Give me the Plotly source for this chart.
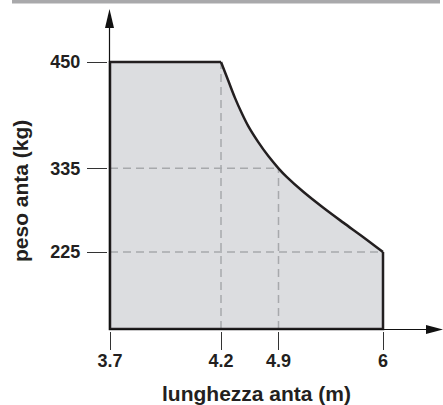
import numpy as np
import plotly.graph_objects as go

# ---------------- data ----------------
X_TICKS = [3.7, 4.2, 4.9, 6.0]          # lunghezza anta (m)
Y_TICKS = [225, 335, 450]               # peso anta (kg)
Y_FLOOR = 125                           # unlabeled floor of the diagram

# curved limit between (4.2, 450) and (6, 225)
CURVE_X = [4.2, 4.289, 4.370, 4.452, 4.532, 4.654, 4.776, 4.9,
           4.986, 5.161, 5.372, 5.582, 5.793, 6.0]
CURVE_Y = [450, 429.7, 411.2, 394.8, 380.6, 363.3, 348.2, 335,
           323.7, 304.1, 283.1, 263.6, 244.5, 225]

# ---------------- schematic (non-linear) axis placement ----------------
X_ANCHOR_VAL = [3.7, 4.2, 4.9, 6.0]
X_ANCHOR_POS = [110, 221, 278.5, 383]
Y_ANCHOR_VAL = [125, 225, 335, 450]
Y_ANCHOR_POS = [76, 153, 236.7, 343]


def mx(v):
    return list(np.interp(v, X_ANCHOR_VAL, X_ANCHOR_POS))


def my(v):
    return list(np.interp(v, Y_ANCHOR_VAL, Y_ANCHOR_POS))


W, H = 443, 405
ML, MB, MT = 108, 74, 10
PLOT_W = W - ML
PLOT_H = H - MB - MT


def PX(px):
    return (px - ML) / PLOT_W


def PY(py):
    return (H - MB - py) / PLOT_H


OUTLINE = "#231f20"
FILL = "#dcdde0"
DASH = "#a7a9ac"
FONT = "Liberation Sans, Arial, Helvetica, sans-serif"

fig = go.Figure()

# filled region
poly_x = [X_TICKS[0], X_TICKS[0]] + CURVE_X + [CURVE_X[-1], X_TICKS[0]]
poly_y = [Y_FLOOR, Y_TICKS[2]] + CURVE_Y + [Y_FLOOR, Y_FLOOR]
fig.add_trace(go.Scatter(x=mx(poly_x), y=my(poly_y), mode="lines", fill="toself",
                         fillcolor=FILL, line=dict(width=0),
                         hoverinfo="skip", showlegend=False))

# dashed reference lines
dash_segments = [
    ([X_TICKS[0], X_TICKS[2]], [Y_TICKS[1], Y_TICKS[1]]),
    ([X_TICKS[0], X_TICKS[3]], [Y_TICKS[0], Y_TICKS[0]]),
    ([X_TICKS[1], X_TICKS[1]], [Y_FLOOR, Y_TICKS[2]]),
    ([X_TICKS[2], X_TICKS[2]], [Y_FLOOR, Y_TICKS[1]]),
]
for sx, sy in dash_segments:
    fig.add_trace(go.Scatter(x=mx(sx), y=my(sy), mode="lines",
                             line=dict(color=DASH, width=1.5, dash="8px,5px"),
                             hoverinfo="skip", showlegend=False))

# straight outline
ox = [CURVE_X[-1], CURVE_X[-1], X_TICKS[0], X_TICKS[0], CURVE_X[0]]
oy = [CURVE_Y[-1], Y_FLOOR, Y_FLOOR, Y_TICKS[2], CURVE_Y[0]]
fig.add_trace(go.Scatter(x=mx(ox), y=my(oy), mode="lines",
                         line=dict(color=OUTLINE, width=2.5),
                         hoverinfo="skip", showlegend=False))
# curved outline
fig.add_trace(go.Scatter(x=mx(CURVE_X), y=my(CURVE_Y), mode="lines",
                         line=dict(color=OUTLINE, width=2.5, shape="spline", smoothing=1),
                         hoverinfo="skip", showlegend=False))

shapes = [
    # top grey band
    dict(type="rect", xref="paper", yref="paper", x0=PX(12), x1=PX(440),
         y0=PY(3.5), y1=PY(0), fillcolor="#a9a9ab", line=dict(width=0), layer="above"),
    # y axis line
    dict(type="line", xref="paper", yref="paper", x0=PX(109.5), x1=PX(109.5),
         y0=PY(26), y1=PY(330), line=dict(color="#111", width=1.2)),
    # x axis line
    dict(type="line", xref="paper", yref="paper", x0=PX(110), x1=PX(430),
         y0=PY(329.5), y1=PY(329.5), line=dict(color="#111", width=1.2)),
    # arrowheads
    dict(type="path", xref="paper", yref="paper",
         path=f"M {PX(109.5)} {PY(9)} L {PX(105)} {PY(28)} L {PX(114)} {PY(28)} Z",
         fillcolor="#111", line=dict(width=0)),
    dict(type="path", xref="paper", yref="paper",
         path=f"M {PX(443)} {PY(329.5)} L {PX(426)} {PY(325)} L {PX(426)} {PY(334)} Z",
         fillcolor="#111", line=dict(width=0)),
]

fig.update_layout(
    width=W, height=H,
    margin=dict(l=ML, r=0, t=MT, b=MB),
    paper_bgcolor="white", plot_bgcolor="white",
    shapes=shapes,
    font=dict(family=FONT, color="#231f20"),
    xaxis=dict(range=[ML, W], showgrid=False, zeroline=False, showline=False,
               tickmode="array", tickvals=mx(X_TICKS),
               ticktext=[f"{v:g}" for v in X_TICKS],
               ticks="outside", ticklen=18, tickwidth=1, tickcolor="#333",
               tickfont=dict(size=18, family=FONT, weight="bold", color="#231f20"),
               ticklabelstandoff=-5,
               fixedrange=True),
    yaxis=dict(range=[MB, H - MT], showgrid=False, zeroline=False, showline=False,
               tickmode="array", tickvals=my(Y_TICKS),
               ticktext=[str(v) for v in Y_TICKS],
               ticks="outside", ticklen=20, tickwidth=1, tickcolor="#333",
               tickfont=dict(size=18, family=FONT, weight="bold", color="#231f20"),
               ticklabelstandoff=3,
               fixedrange=True),
    annotations=[
        dict(text="lunghezza anta (m)", xref="paper", yref="paper",
             x=PX(256), y=PY(394), xanchor="center", yanchor="middle",
             showarrow=False, font=dict(size=21, family=FONT, weight="bold", color="#231f20")),
        dict(text="peso anta (kg)", xref="paper", yref="paper",
             x=PX(21), y=PY(191), xanchor="center", yanchor="middle", textangle=-90,
             showarrow=False, font=dict(size=21, family=FONT, weight="bold", color="#231f20")),
    ],
)

fig.write_html("out.html", config={"displayModeBar": False},
               post_script="document.body.style.margin='0px';document.body.style.overflow='hidden';")
